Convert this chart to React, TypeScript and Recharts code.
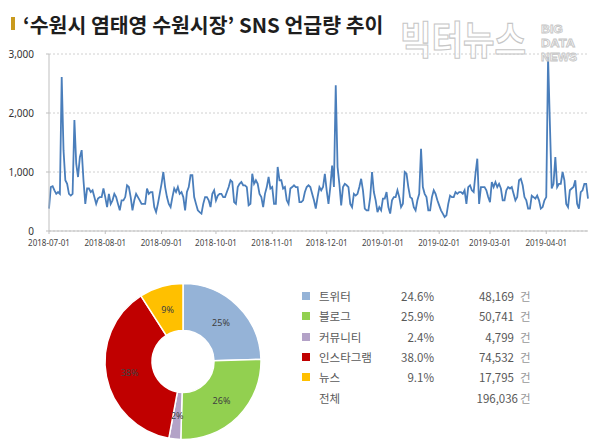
import React from 'react';
import { LineChart, Line, XAxis, YAxis, CartesianGrid, PieChart, Pie, Cell } from 'recharts';

// ---------- data ----------
const startDate = '2018-07-01';

const mentionsJulToNov: number[] = [
  380, 745, 760, 690, 630, 660, 630, 2610, 1370, 860, 800, 630, 600, 630, 1880, 1140, 915, 1250, 1370, 860, 460,
  720, 720, 660, 690, 575, 460, 550, 575, 575, 720, 575, 405, 630, 460, 520, 630, 575, 460, 350, 520,
  520, 575, 775, 745, 575, 350, 520, 630, 575, 520, 460, 460, 460, 720, 630, 660, 660,
  405, 320, 460, 630, 800, 1000, 745, 575, 460, 405, 575, 720, 660, 745, 630, 660, 575, 350,
  660, 745, 945, 945, 575, 460, 350, 320, 295, 460, 575, 575, 520, 405, 630, 690, 520, 600, 630, 630,
  575, 575, 660, 745, 860, 830, 490, 460, 745, 800, 830, 775, 775, 745, 435, 460, 970, 800, 860, 800,
  630, 575, 405, 630, 745, 915, 720, 745, 460, 460, 1085, 860, 860, 720, 745, 520, 460,
  720, 745, 775, 745, 745, 490,
];

const mentionsNovToApr: number[] = [
  490, 520, 660, 745, 775, 745, 630,
  520, 380, 575, 745, 690,
  745, 970, 690, 460, 745, 1110, 745, 2470, 1085, 800, 435, 745, 800, 775, 745,
  460, 405, 630, 600, 630, 745, 885, 690, 380, 350,
  350, 575, 1000, 660, 520, 320, 405, 350, 550, 550,
  660, 405, 295, 520, 575, 575, 690, 575, 405, 460,
  1000, 970, 745, 575, 550, 405, 350, 520, 630, 1395, 745, 630, 575, 350, 350, 575,
  690, 630, 520, 435, 350, 295, 237, 265, 460, 600, 575,
  575, 660, 630, 660, 660, 630, 690,
  460, 745, 775, 690, 660, 970, 1225, 460, 745, 745, 745, 690, 575, 490,
  830, 745, 830, 745, 800, 720, 520, 520, 690, 745, 720,
  745, 630, 520, 575, 860, 885, 775, 575, 520, 380, 380, 600,
  575, 550, 600, 520, 380, 405, 520, 575, 2950, 1820, 720, 800, 1255, 745, 800, 800,
  1000, 860, 460, 405, 690, 720, 745, 860,
  460, 380, 660, 690, 800, 800, 550,
];

const xTickDates = [
  '2018-07-01', '2018-08-01', '2018-09-01', '2018-10-01', '2018-11-01',
  '2018-12-01', '2019-01-01', '2019-02-01', '2019-03-01', '2019-04-01',
];
const yTicks = [0, 1000, 2000, 3000];

const channelNames = ['트위터', '블로그', '커뮤니티', '인스타그램', '뉴스'];
const channelShares = ['24.6%', '25.9%', '2.4%', '38.0%', '9.1%'];
const channelCounts = [48169, 50741, 4799, 74532, 17795];
const channelColors = ['#95b3d7', '#92d050', '#b3a2c7', '#c00000', '#ffc000'];
const totalLabel = '전체';
const totalCount = 196036;
const countUnit = '건';

const titleText = '‘수원시 염태영 수원시장’ SNS 언급량 추이';

// ---------- derived ----------
const DAY = 86400000;
const dayIndex = (d: string) => Math.round((Date.parse(d) - Date.parse(startDate)) / DAY);
const dailyMentions = [...mentionsJulToNov, ...mentionsNovToApr];
const lineData = dailyMentions.map((v, i) => ({ day: i, value: v }));
const xTicks = xTickDates.map(dayIndex);
const pieData = channelNames.map((n, i) => ({ name: n, value: channelCounts[i] }));

const fmt = (n: number) => n.toLocaleString('en-US');

const RAD = Math.PI / 180;
const renderPieLabel = (p: any) => {
  const { cx, cy, midAngle, innerRadius, outerRadius, percent } = p;
  const r = (innerRadius + outerRadius) / 2;
  const x = cx + r * Math.cos(-midAngle * RAD);
  const y = cy + r * Math.sin(-midAngle * RAD);
  return (
    <text x={x} y={y} textAnchor="middle" dominantBaseline="central" fontSize={9}
      fontFamily="'Noto Sans', 'Noto Sans CJK KR', sans-serif" fill="#404040">
      {Math.round(percent * 100)}%
    </text>
  );
};

const font = "'Noto Sans CJK KR', 'Noto Sans', sans-serif";

export default function App() {
  const rowTop = 288;
  const rowGap = 20.3;
  return (
    <div style={{ position: 'absolute', left: 0, top: 0, width: 600, height: 444, background: '#fff', overflow: 'hidden', fontFamily: font }}>
      {/* title */}
      <div style={{ position: 'absolute', left: 11, top: 17, width: 4, height: 13, background: '#c99a1e' }} />
      <div style={{ position: 'absolute', left: 23, top: 13, fontSize: 20.5, lineHeight: '23px', fontWeight: 700, color: '#1e1e1e', whiteSpace: 'nowrap' }}>
        {titleText}
      </div>

      {/* line chart */}
      <div style={{ position: 'absolute', left: 0, top: 0 }}>
        <LineChart width={600} height={260} data={lineData} margin={{ top: 54, right: 12, bottom: 9, left: 0 }}>
          <CartesianGrid vertical={false} stroke="#d0d0d0" strokeDasharray="2 2" />
          <XAxis type="number" dataKey="day" domain={[0, dailyMentions.length - 1]} ticks={xTicks} interval={0}
            tickFormatter={(d: number) => xTickDates[xTicks.indexOf(d)] ?? ''}
            height={20} tickSize={3} tickMargin={6}
            stroke="#bfbfbf" tick={{ fontSize: 8, fill: '#444', fontFamily: "'Noto Sans', sans-serif" }} />
          <YAxis domain={[0, 3000]} ticks={yTicks} width={49} tickSize={3} tickMargin={12}
            tickFormatter={(v: number) => fmt(v)} stroke="#bfbfbf"
            tick={{ fontSize: 10, fill: '#333', fontFamily: "'Noto Sans', sans-serif" }} />
          <Line type="linear" dataKey="value" stroke="#4a7ebb" strokeWidth={1.8} dot={false} isAnimationActive={false} />
        </LineChart>
      </div>

      {/* watermark */}
      <svg width={600} height={80} style={{ position: 'absolute', left: 0, top: 0, pointerEvents: 'none' }}>
        <g transform="translate(400,54) scale(1.07,1.2)">
          <text x={0} y={0} fontSize={32} fontWeight={700} fontFamily={font} fill="#ffffff" fillOpacity={0.6}
            stroke="#c6c6c6" strokeWidth={0.9}>빅터뉴스</text>
        </g>
        <text x={541} y={33} fontSize={11} fontWeight={700} fontFamily="'Liberation Sans', sans-serif" fill="#ffffff" fillOpacity={0.6}
          stroke="#c6c6c6" strokeWidth={0.8} textLength={22} lengthAdjust="spacingAndGlyphs">BIG</text>
        <text x={541} y={47} fontSize={11} fontWeight={700} fontFamily="'Liberation Sans', sans-serif" fill="#ffffff" fillOpacity={0.6}
          stroke="#c6c6c6" strokeWidth={0.8} textLength={34} lengthAdjust="spacingAndGlyphs">DATA</text>
        <text x={541} y={61} fontSize={11} fontWeight={700} fontFamily="'Liberation Sans', sans-serif" fill="#ffffff" fillOpacity={0.6}
          stroke="#c6c6c6" strokeWidth={0.8} textLength={36} lengthAdjust="spacingAndGlyphs">NEWS</text>
      </svg>

      {/* donut */}
      <div style={{ position: 'absolute', left: 0, top: 260 }}>
        <PieChart width={300} height={184}>
          <Pie data={pieData} dataKey="value" nameKey="name" cx={178} cy={96.5} innerRadius={31} outerRadius={78}
            startAngle={90} endAngle={-270} stroke="#ffffff" strokeWidth={1.5}
            label={renderPieLabel} labelLine={false} isAnimationActive={false}>
            {pieData.map((d, i) => <Cell key={d.name} fill={channelColors[i]} />)}
          </Pie>
        </PieChart>
      </div>

      {/* legend table */}
      {channelNames.map((n, i) => (
        <div key={n} style={{ position: 'absolute', left: 0, top: rowTop + i * rowGap, width: 600, height: 16, fontSize: 11.5, lineHeight: '16px', color: '#595959' }}>
          <div style={{ position: 'absolute', left: 302, top: 4, width: 8, height: 8, background: channelColors[i] }} />
          <span style={{ position: 'absolute', left: 319, top: 0, whiteSpace: 'nowrap' }}>{n}</span>
          <span style={{ position: 'absolute', right: 600 - 434, top: 0, whiteSpace: 'nowrap' }}>{channelShares[i]}</span>
          <span style={{ position: 'absolute', right: 600 - 514, top: 0, whiteSpace: 'nowrap' }}>{fmt(channelCounts[i])}</span>
          <span style={{ position: 'absolute', left: 520, top: 0, whiteSpace: 'nowrap', color: '#999' }}>{countUnit}</span>
        </div>
      ))}
      <div style={{ position: 'absolute', left: 0, top: rowTop + 5 * rowGap, width: 600, height: 16, fontSize: 11.5, lineHeight: '16px', color: '#595959' }}>
        <span style={{ position: 'absolute', left: 319, top: 0 }}>{totalLabel}</span>
        <span style={{ position: 'absolute', right: 600 - 518, top: 0 }}>{fmt(totalCount)}</span>
        <span style={{ position: 'absolute', left: 520, top: 0, color: '#999' }}>{countUnit}</span>
      </div>
    </div>
  );
}
